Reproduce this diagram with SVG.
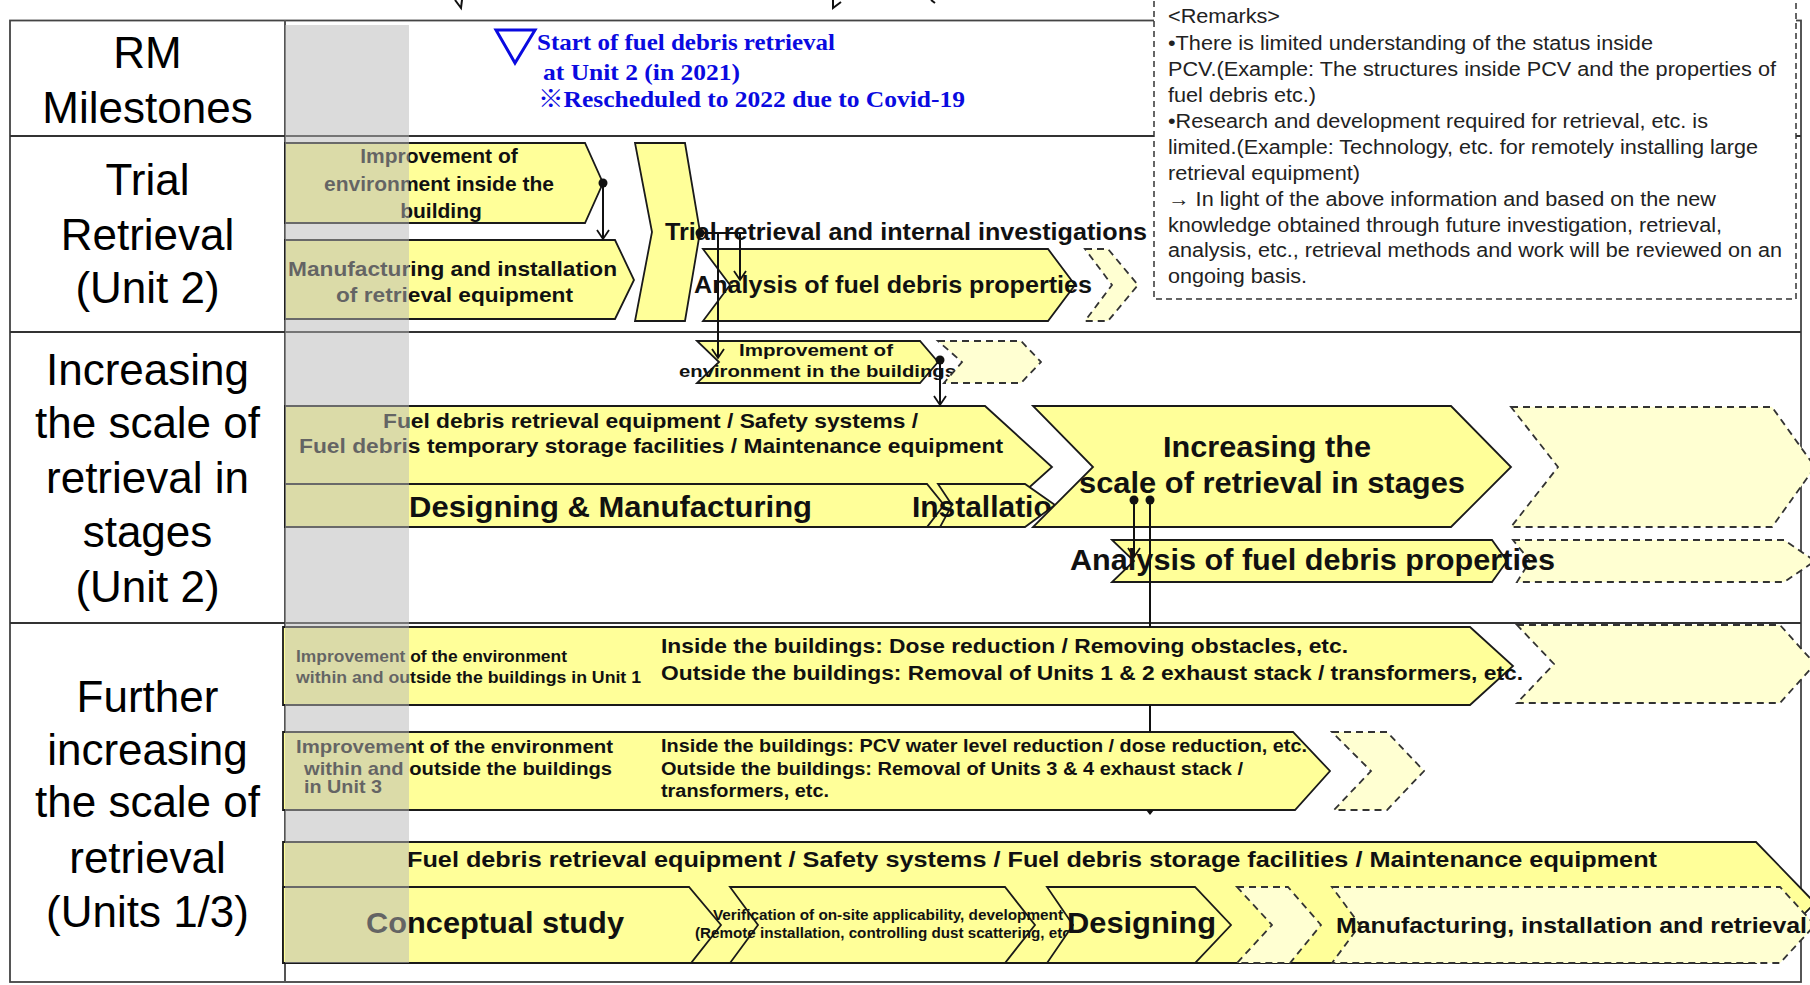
<svg xmlns="http://www.w3.org/2000/svg" width="1810" height="985" viewBox="0 0 1810 985">
<defs>
<style>
.lbl{font-family:"Liberation Sans",Arial,sans-serif;font-size:44px;text-anchor:middle;fill:#000}
.box{fill:#FFFF99;stroke:#1a1a1a;stroke-width:1.8;stroke-linejoin:miter}
.dash{fill:#FFFFD2;stroke:#333;stroke-width:1.8;stroke-dasharray:7 5}
.b{font-family:"Liberation Sans",Arial,sans-serif;font-weight:bold;fill:#111}
.rm{font-family:"Liberation Sans",Arial,sans-serif;font-size:20px;fill:#222}
.ms{font-family:"Liberation Serif","Times New Roman","Noto Sans CJK JP",serif;font-weight:bold;font-size:24px;fill:#0a0ae0}
.conn{stroke:#111;stroke-width:2;fill:none}
.grid{stroke:#333;stroke-width:2;fill:none}
</style>
<marker id="arr" viewBox="-10 -7 12 14" refX="0" refY="0" markerWidth="12" markerHeight="14" orient="auto" markerUnits="userSpaceOnUse">
<path d="M-9,-6 L0,0 L-9,6" fill="none" stroke="#111" stroke-width="1.8"/>
</marker>
<clipPath id="instClip"><polygon points="285,484 1025,484 1055,505 1025,527 285,527"/></clipPath>
</defs>
<rect width="1810" height="985" fill="#fff"/>

<g id="top-marks" class="conn" stroke-width="1.5">
<polyline points="455,0 461,8 462,0"/>
<polyline points="833,0 833,8 841,2"/>
<line x1="931" y1="0" x2="935" y2="3"/>
</g>

<g id="table">
<rect x="10" y="20.5" width="1791" height="961.5" fill="none" stroke="#444" stroke-width="1.8"/>
<line x1="285" y1="20" x2="285" y2="982" stroke="#555" stroke-width="2"/>
<line class="grid" x1="10" y1="136" x2="1801" y2="136"/>
<line class="grid" x1="10" y1="332" x2="1801" y2="332"/>
<line class="grid" x1="10" y1="623" x2="1801" y2="623"/>
</g>

<g id="label-rm"><text class="lbl" x="147.5" y="68">RM</text><text class="lbl" x="147.5" y="123">Milestones</text></g>
<g id="label-trial"><text class="lbl" x="147.5" y="195">Trial</text><text class="lbl" x="147.5" y="250">Retrieval</text><text class="lbl" x="147.5" y="303">(Unit 2)</text></g>
<g id="label-increasing"><text class="lbl" x="147.5" y="385">Increasing</text><text class="lbl" x="147.5" y="438">the scale of</text><text class="lbl" x="147.5" y="493">retrieval in</text><text class="lbl" x="147.5" y="547">stages</text><text class="lbl" x="147.5" y="602">(Unit 2)</text></g>
<g id="label-further"><text class="lbl" x="147.5" y="712">Further</text><text class="lbl" x="147.5" y="765">increasing</text><text class="lbl" x="147.5" y="817">the scale of</text><text class="lbl" x="147.5" y="873">retrieval</text><text class="lbl" x="147.5" y="927">(Units 1/3)</text></g>

<g id="milestone">
<polygon points="496,30 535,30 515,63" fill="none" stroke="#0a0ae0" stroke-width="3"/>
<text class="ms" x="537" y="50" textLength="298" lengthAdjust="spacingAndGlyphs">Start of fuel debris retrieval</text>
<text class="ms" x="543" y="80" textLength="197" lengthAdjust="spacingAndGlyphs">at Unit 2 (in 2021)</text>
<text class="ms" x="538" y="107" textLength="427" lengthAdjust="spacingAndGlyphs">※Rescheduled to 2022 due to Covid-19</text>
</g>

<!-- Trial retrieval row -->
<g id="node-improve-env">
<polygon class="box" points="285,143 585,143 603,183 585,223 285,223"/>
<text class="b" font-size="21" text-anchor="middle" x="439" y="163">Improvement of</text>
<text class="b" font-size="21" text-anchor="middle" x="439" y="191">environment inside the</text>
<text class="b" font-size="21" text-anchor="middle" x="441" y="218">building</text>
</g>
<g id="node-manufacturing">
<polygon class="box" points="285,240 615,240 634,280 615,319 285,319"/>
<text class="b" font-size="21" x="288" y="276" textLength="329" lengthAdjust="spacingAndGlyphs">Manufacturing and installation</text>
<text class="b" font-size="21" x="336" y="302" textLength="237" lengthAdjust="spacingAndGlyphs">of retrieval equipment</text>
</g>
<g id="node-trial-chevron">
<polygon class="box" points="635,143 685,143 700,232 685,321 635,321 652,232"/>
</g>
<g id="node-analysis1-next">
<polygon class="dash" points="1085,249 1108,249 1138,285 1108,321 1085,321 1112,285"/>
</g>
<g id="node-analysis1">
<polygon class="box" points="703,249 1048,249 1075,285 1048,321 703,321 730,285"/>
<text class="b" font-size="23" x="694" y="293" textLength="398" lengthAdjust="spacingAndGlyphs">Analysis of fuel debris properties</text>
</g>
<g id="node-trial-label">
<text class="b" font-size="23" x="665" y="240" textLength="482" lengthAdjust="spacingAndGlyphs">Trial retrieval and internal investigations</text>
</g>

<!-- Increasing scale row -->
<g id="node-fuel-equipment">
<polygon class="box" points="285,406 985,406 1052,467 985,527 285,527"/>
<text class="b" font-size="21" x="383" y="428" textLength="535" lengthAdjust="spacingAndGlyphs">Fuel debris retrieval equipment / Safety systems /</text>
<text class="b" font-size="21" x="299" y="453" textLength="704" lengthAdjust="spacingAndGlyphs">Fuel debris temporary storage facilities / Maintenance equipment</text>
</g>
<g id="node-design-manuf">
<polygon class="box" points="285,484 927,484 944,505 927,527 285,527"/>
<text class="b" font-size="30" x="409" y="517" textLength="403" lengthAdjust="spacingAndGlyphs">Designing &amp; Manufacturing</text>
</g>
<g id="node-installation">
<polygon class="box" points="938,484 1025,484 1055,505 1025,527 940,527 952,505"/>
<text class="b" font-size="30" x="912" y="517" textLength="158" lengthAdjust="spacingAndGlyphs" clip-path="url(#instClip)">Installation</text>
</g>
<g id="node-increasing">
<polygon class="box" points="1033,406 1451,406 1511,467 1451,527 1033,527 1093,467"/>
<text class="b" font-size="30" x="1163" y="457" textLength="208" lengthAdjust="spacingAndGlyphs">Increasing the</text>
<text class="b" font-size="30" x="1079" y="493" textLength="386" lengthAdjust="spacingAndGlyphs">scale of retrieval in stages</text>
</g>
<g id="node-increasing-next">
<polygon class="dash" points="1511,407 1772,407 1815,467 1772,527 1511,527 1558,467"/>
</g>
<g id="node-improve-env2">
<polygon class="box" points="697,341 920,341 938,362 920,383 697,383 719,362"/>
<text class="b" font-size="17" x="739" y="356" textLength="154" lengthAdjust="spacingAndGlyphs">Improvement  of</text>
<text class="b" font-size="17" x="679" y="377" textLength="277" lengthAdjust="spacingAndGlyphs">environment in the buildings</text>
</g>
<g id="node-improve-env2-next">
<polygon class="dash" points="938,341 1021,341 1041,362 1021,383 944,383 962,362"/>
</g>
<g id="node-analysis2-next">
<polygon class="dash" points="1513,540 1784,540 1815,561 1784,582 1517,582 1530,561"/>
</g>
<g id="node-analysis2">
<polygon class="box" points="1112,540 1492,540 1507,561 1492,582 1112,582 1134,561"/>
<text class="b" font-size="30" x="1070" y="570" textLength="485" lengthAdjust="spacingAndGlyphs">Analysis of fuel debris properties</text>
</g>

<!-- Further increasing row -->
<g id="node-unit1">
<polygon class="box" points="283,627 1470,627 1513,666 1470,705 283,705"/>
<text class="b" font-size="17" x="296" y="662" textLength="271" lengthAdjust="spacingAndGlyphs">Improvement  of the environment</text>
<text class="b" font-size="17" x="296" y="683" textLength="345" lengthAdjust="spacingAndGlyphs">within  and outside  the buildings  in Unit 1</text>
<text class="b" font-size="21" x="661" y="653" textLength="687" lengthAdjust="spacingAndGlyphs">Inside the buildings: Dose reduction / Removing obstacles, etc.</text>
<text class="b" font-size="21" x="661" y="680" textLength="862" lengthAdjust="spacingAndGlyphs">Outside the buildings: Removal of Units 1 &amp; 2 exhaust stack / transformers, etc.</text>
</g>
<g id="node-unit1-next">
<polygon class="dash" points="1517,625 1780,625 1815,664 1780,703 1517,703 1554,664"/>
</g>
<g id="node-unit3">
<polygon class="box" points="283,732 1293,732 1330,771 1295,810 283,810"/>
<text class="b" font-size="19" x="296" y="753" textLength="317" lengthAdjust="spacingAndGlyphs">Improvement  of the environment</text>
<text class="b" font-size="19" x="304" y="775" textLength="308" lengthAdjust="spacingAndGlyphs">within and outside the buildings</text>
<text class="b" font-size="19" x="304" y="793" textLength="78" lengthAdjust="spacingAndGlyphs">in Unit 3</text>
<text class="b" font-size="18" x="661" y="752" textLength="646" lengthAdjust="spacingAndGlyphs">Inside the buildings: PCV water level reduction / dose reduction, etc.</text>
<text class="b" font-size="18" x="661" y="775" textLength="582" lengthAdjust="spacingAndGlyphs">Outside the buildings: Removal of Units 3 &amp; 4  exhaust stack /</text>
<text class="b" font-size="18" x="661" y="797" textLength="168" lengthAdjust="spacingAndGlyphs">transformers, etc.</text>
</g>
<g id="node-unit3-next">
<polygon class="dash" points="1332,732 1387,732 1424,771 1387,810 1334,810 1371,771"/>
</g>
<g id="node-units13-equipment">
<polygon class="box" points="283,842 1756,842 1815,903 1756,963 283,963"/>
<text class="b" font-size="22" x="407" y="867" textLength="1250" lengthAdjust="spacingAndGlyphs">Fuel debris retrieval equipment / Safety systems / Fuel debris storage facilities / Maintenance equipment</text>
</g>
<g id="node-conceptual">
<polygon class="box" points="283,887 689,887 721,925 691,963 283,963"/>
<text class="b" font-size="30" x="366" y="933" textLength="258" lengthAdjust="spacingAndGlyphs">Conceptual study</text>
</g>
<g id="node-verification">
<polygon class="box" points="730,887 1005,887 1035,925 1005,963 730,963 758,925"/>
<text class="b" font-size="15" x="713" y="920" textLength="350" lengthAdjust="spacingAndGlyphs">Verification of on-site applicability, development</text>
<text class="b" font-size="15" x="695" y="938" textLength="385" lengthAdjust="spacingAndGlyphs">(Remote installation, controlling dust scattering, etc.)</text>
</g>
<g id="node-designing">
<polygon class="box" points="1047,887 1195,887 1231,925 1195,963 1047,963 1073,925"/>
<text class="b" font-size="30" x="1067" y="933" textLength="149" lengthAdjust="spacingAndGlyphs">Designing</text>
</g>
<g id="node-designing-next">
<polygon class="dash" points="1237,887 1288,887 1321,925 1290,963 1237,963 1272,925"/>
</g>
<g id="node-manuf-retrieval">
<polygon class="dash" points="1332,887 1780,887 1815,925 1780,963 1332,963 1360,925"/>
<text class="b" font-size="22" x="1336" y="933" textLength="471" lengthAdjust="spacingAndGlyphs">Manufacturing, installation and retrieval</text>
</g>

<g id="connectors">
<line class="conn" x1="603" y1="183" x2="603" y2="239" marker-end="url(#arr)"/>
<line class="conn" x1="700" y1="233" x2="740" y2="233"/>
<line class="conn" x1="718" y1="233" x2="718" y2="358" marker-end="url(#arr)"/>
<line class="conn" x1="740" y1="233" x2="740" y2="280" marker-end="url(#arr)"/>
<line class="conn" x1="940" y1="360" x2="940" y2="405" marker-end="url(#arr)"/>
<line class="conn" x1="1134" y1="500" x2="1134" y2="557" marker-end="url(#arr)"/>
<line class="conn" x1="1150" y1="500" x2="1150" y2="627"/>
<line class="conn" x1="1150" y1="705" x2="1150" y2="732"/>
<polygon points="1146,810 1154,810 1150,815" fill="#111"/>
<circle cx="603" cy="183" r="4.5" fill="#111"/>
<circle cx="700" cy="233" r="4.5" fill="#111"/>
<circle cx="940" cy="360" r="4.5" fill="#111"/>
<circle cx="1134" cy="500" r="4.5" fill="#111"/>
<circle cx="1150" cy="500" r="4.5" fill="#111"/>
</g>

<rect id="gray-band" x="285" y="25" width="124" height="938" fill="#B8B8B8" opacity="0.5"/>

<g id="remarks">
<rect x="1154" y="-5" width="642" height="304" fill="#fff" stroke="#333" stroke-width="1.5" stroke-dasharray="6 4"/>
<text class="rm" x="1168" y="23" textLength="112" lengthAdjust="spacingAndGlyphs">&lt;Remarks&gt;</text>
<text class="rm" x="1168" y="50" textLength="485" lengthAdjust="spacingAndGlyphs">•There is limited understanding of the status inside</text>
<text class="rm" x="1168" y="76" textLength="608" lengthAdjust="spacingAndGlyphs">PCV.(Example: The structures inside PCV and the properties of</text>
<text class="rm" x="1168" y="102" textLength="148" lengthAdjust="spacingAndGlyphs">fuel debris etc.)</text>
<text class="rm" x="1168" y="128" textLength="540" lengthAdjust="spacingAndGlyphs">•Research and development required for retrieval, etc. is</text>
<text class="rm" x="1168" y="154" textLength="590" lengthAdjust="spacingAndGlyphs">limited.(Example: Technology, etc. for remotely installing large</text>
<text class="rm" x="1168" y="180" textLength="192" lengthAdjust="spacingAndGlyphs">retrieval equipment)</text>
<text class="rm" x="1168" y="206" textLength="548" lengthAdjust="spacingAndGlyphs">→ In light of the above information and based on the new</text>
<text class="rm" x="1168" y="232" textLength="554" lengthAdjust="spacingAndGlyphs">knowledge obtained through future investigation, retrieval,</text>
<text class="rm" x="1168" y="257" textLength="614" lengthAdjust="spacingAndGlyphs">analysis, etc., retrieval methods and work will be reviewed on an</text>
<text class="rm" x="1168" y="283" textLength="139" lengthAdjust="spacingAndGlyphs">ongoing basis.</text>
</g>
</svg>
